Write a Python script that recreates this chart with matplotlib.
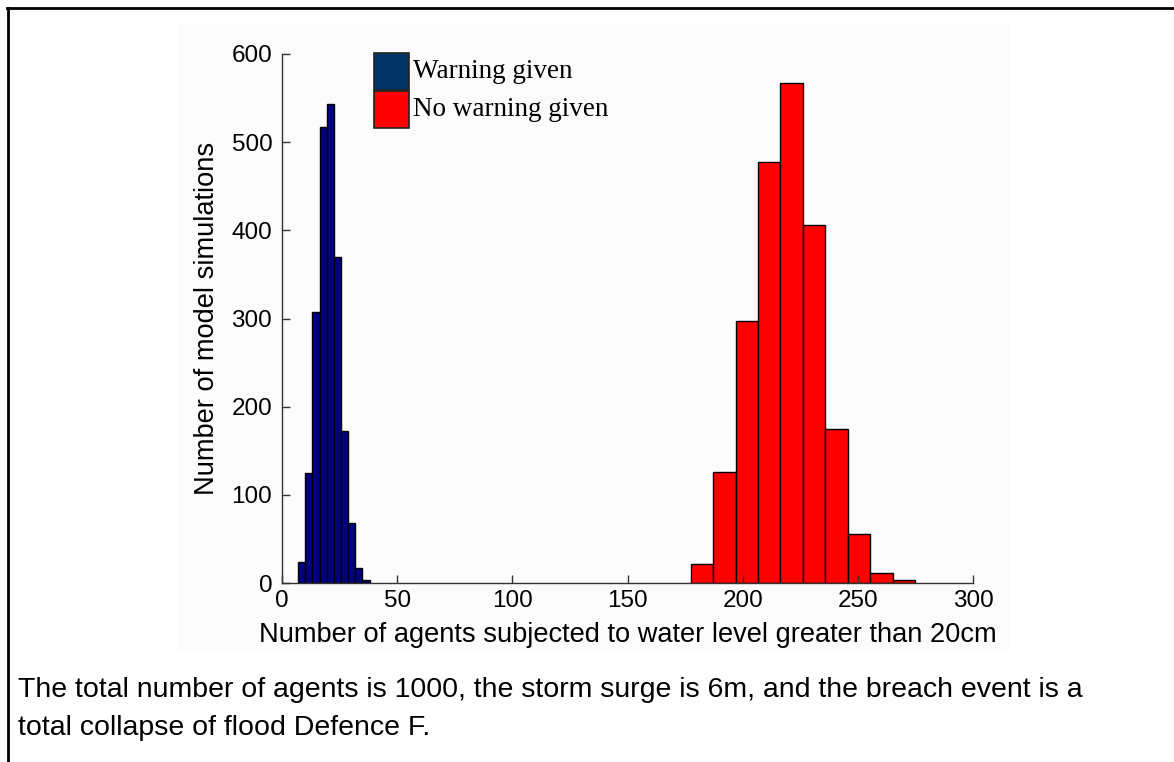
"""Histogram of agents exposed to >20cm water, warning vs no warning."""

import matplotlib

matplotlib.use("Agg")

import matplotlib.pyplot as plt
import numpy as np
from matplotlib.patches import Rectangle

# bin edges and counts
warn_edges = np.linspace(7.0, 38.0, 11)
warn_counts = [24, 125, 307, 517, 543, 370, 172, 68, 17, 3]

nowarn_edges = np.linspace(177.4, 274.9, 11)
nowarn_counts = [22, 126, 297, 477, 567, 406, 175, 56, 11, 3]

x_ticks = [0, 50, 100, 150, 200, 250, 300]
y_ticks = [0, 100, 200, 300, 400, 500, 600]

legend_labels = ["Warning given", "No warning given"]
caption_lines = [
    "The total number of agents is 1000, the storm surge is 6m, and the breach event is a",
    "total collapse of flood Defence F.",
]

W, H = 1174, 762
sans = "Liberation Sans"
serif = "Liberation Serif"

fig = plt.figure(figsize=(W / 100, H / 100), dpi=100)

# faint background of the embedded chart image
fig.patches.append(Rectangle((178 / W, 1 - 652 / H), (1010 - 178) / W, (652 - 23) / H,
                             transform=fig.transFigure, facecolor="#fcfcfc",
                             edgecolor="none", zorder=-2))

ax = fig.add_axes([282 / W, 1 - 583 / H, (973 - 282) / W, (583 - 54) / H])
ax.set_zorder(0.5)
ax.set_facecolor("none")

ax.bar(warn_edges[:-1], warn_counts, width=np.diff(warn_edges), align="edge",
       color="#000080", edgecolor="black", linewidth=1.0)
ax.bar(nowarn_edges[:-1], nowarn_counts, width=np.diff(nowarn_edges), align="edge",
       color="#ff0000", edgecolor="black", linewidth=1.0)

ax.set_xlim(0, 300)
ax.set_ylim(0, 600)
ax.set_xticks(x_ticks)
ax.set_yticks(y_ticks)
for side in ("top", "right"):
    ax.spines[side].set_visible(False)
for side in ("left", "bottom"):
    ax.spines[side].set_color("#333333")
    ax.spines[side].set_linewidth(1.0)
ax.tick_params(direction="in", length=6, width=1.0, color="#333333",
               labelsize=17.5)
ax.tick_params(axis="y", pad=7)
ax.tick_params(axis="x", pad=5)
for lab in ax.get_xticklabels() + ax.get_yticklabels():
    lab.set_fontfamily(sans)

ax.set_xlabel("Number of agents subjected to water level greater than 20cm",
              fontsize=19.6, fontfamily=sans, labelpad=7)
ax.set_ylabel("Number of model simulations", fontsize=19.6, fontfamily=sans, labelpad=8)

# legend drawn by hand (box at top of the plot)
fig.patches.append(Rectangle((373 / W, 1 - 148 / H), (655 - 373) / W, (148 - 55) / H,
                             transform=fig.transFigure, facecolor="#fbfbfb",
                             edgecolor="none", zorder=1))
leg_colors = ["#003366", "#ff0000"]
for i, (lab, col) in enumerate(zip(legend_labels, leg_colors)):
    top = 53 + i * 38
    fig.patches.append(Rectangle((374 / W, 1 - (top + 37) / H), 35 / W, 37 / H,
                                 transform=fig.transFigure, facecolor=col,
                                 edgecolor="#222222", linewidth=1.2, zorder=2))
    fig.text(413 / W, 1 - (top + 19) / H, lab, fontsize=19.5, fontfamily=serif,
             va="center", ha="left", zorder=3)

# frame around the figure cell
fig.add_artist(plt.Line2D([8 / W, 8 / W], [0, 1 - 8 / H], transform=fig.transFigure,
                          color="black", linewidth=2.0))
fig.add_artist(plt.Line2D([7 / W, 1], [1 - 8 / H, 1 - 8 / H], transform=fig.transFigure,
                          color="black", linewidth=2.0))

for i, line in enumerate(caption_lines):
    fig.text(18 / W, 1 - (690 + i * 38) / H, line, fontsize=20.5, fontfamily=sans,
             va="center", ha="left")

fig.savefig("out.png", dpi=100)
plt.close(fig)
